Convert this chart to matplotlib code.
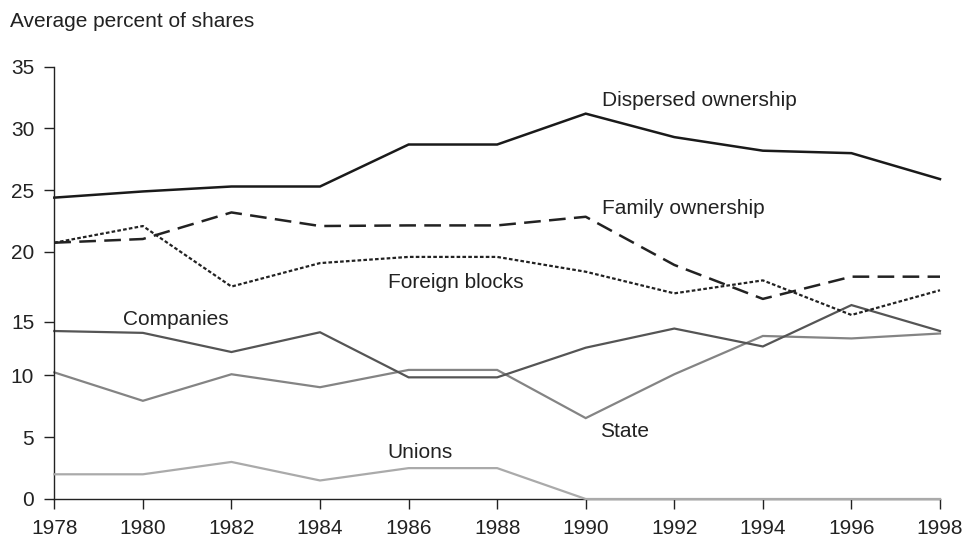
import matplotlib
matplotlib.use('Agg')
import matplotlib.pyplot as plt

plt.rcParams['font.family'] = ['Liberation Sans', 'DejaVu Sans']
plt.rcParams['lines.scale_dashes'] = False

years = [1978, 1980, 1982, 1984, 1986, 1988, 1990, 1992, 1994, 1996, 1998]
dispersed = [24.4, 24.9, 25.3, 25.3, 28.7, 28.7, 31.2, 29.3, 28.2, 28.0, 25.9]
family = [20.75, 21.05, 23.2, 22.1, 22.15, 22.15, 22.85, 18.95, 16.2, 18.0, 18.0]
foreign = [20.75, 22.1, 17.2, 19.1, 19.6, 19.6, 18.4, 16.65, 17.7, 14.9, 16.9]
companies = [13.6, 13.45, 11.9, 13.5, 9.85, 9.85, 12.25, 13.8, 12.35, 15.7, 13.6]
state = [10.25, 7.95, 10.1, 9.05, 10.45, 10.45, 6.55, 10.1, 13.2, 13.0, 13.4]
unions = [2.0, 2.0, 3.0, 1.5, 2.5, 2.5, 0, 0, 0, 0, 0]

# the original puts the "15" tick a bit low; keep it where it sits
ytick_pos = [0, 5, 10, 14.35, 20, 25, 30, 35]
ytick_lab = ['0', '5', '10', '15', '20', '25', '30', '35']

fig = plt.figure(figsize=(9.64, 5.45), dpi=100)
fig.patch.set_facecolor('white')
ax = fig.add_axes([54.3 / 964, 1 - 499 / 545, (940 - 54.3) / 964, (499 - 66.7) / 545])

txt = '#222222'
# unions sits on the x axis from 1990 on, drawn over the spine like the original
ax.plot(years, unions, color='#aaaaaa', lw=1.6, solid_joinstyle='miter', zorder=3)
ax.plot(years, state, color='#848484', lw=1.6, solid_joinstyle='miter')
ax.plot(years, companies, color='#555555', lw=1.6, solid_joinstyle='miter')
ax.plot(years, foreign, color='#222222', lw=1.6, dashes=(2.6, 1.6))
ax.plot(years, family, color='#222222', lw=1.8, dashes=(12, 6))
ax.plot(years, dispersed, color='#1a1a1a', lw=1.8, solid_joinstyle='miter')

ax.set_xlim(1978, 1998)
ax.set_ylim(0, 35)
ax.set_xticks(years)
ax.set_yticks(ytick_pos)
ax.set_yticklabels(ytick_lab)
for s in ['top', 'right']:
    ax.spines[s].set_visible(False)
for s in ['left', 'bottom']:
    ax.spines[s].set_color('#222222')
    ax.spines[s].set_linewidth(1.0)
ax.spines['left'].set_bounds(0, 35)
ax.tick_params(axis='both', direction='out', length=7.5, width=1.0, color='#222222',
               labelsize=15, labelcolor=txt, pad=7)
ax.patch.set_alpha(0)
for ln in ax.lines:
    ln.set_clip_on(False)

fs = 15
ax.text(1990.36, 31.82, 'Dispersed ownership', fontsize=fs, color=txt, va='baseline')
ax.text(1990.36, 23.08, 'Family ownership', fontsize=fs, color=txt, va='baseline')
ax.text(1985.54, 17.06, 'Foreign blocks', fontsize=fs, color=txt, va='baseline')
ax.text(1979.56, 14.09, 'Companies', fontsize=fs, color=txt, va='baseline')
ax.text(1990.32, 5.04, 'State', fontsize=fs, color=txt, va='baseline')
ax.text(1985.52, 3.35, 'Unions', fontsize=fs, color=txt, va='baseline')

fig.text(10 / 964, 1 - 26.7 / 545, 'Average percent of shares', fontsize=fs, color=txt,
         va='baseline', ha='left')

plt.savefig('out.png', dpi=100, facecolor='white')
plt.close()
